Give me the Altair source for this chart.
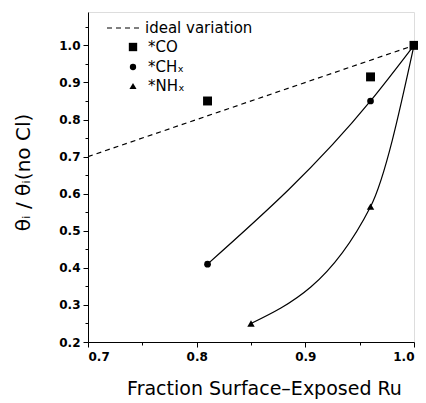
import altair as alt
import pandas as pd

FONT = "DejaVu Sans"

co_x = [0.81, 0.96, 1.0]
co_y = [0.85, 0.915, 1.0]
ch_x = [0.81, 0.96, 1.0]
ch_y = [0.41, 0.85, 1.0]
nh_x = [0.85, 0.96, 1.0]
nh_y = [0.25, 0.565, 1.0]
ideal_x = [0.7, 1.0]
ideal_y = [0.7, 1.0]

x_ticks = [0.7, 0.8, 0.9, 1.0]
x_minor = [0.75, 0.85, 0.95]
y_ticks = [0.2, 0.3, 0.4, 0.5, 0.6, 0.7, 0.8, 0.9, 1.0]
y_minor = [0.25, 0.35, 0.45, 0.55, 0.65, 0.75, 0.85, 0.95, 1.05]

legend_labels = ["ideal variation", "*CO", "*CHₓ", "*NHₓ"]

co = pd.DataFrame({"x": co_x, "y": co_y})
ch = pd.DataFrame({"x": ch_x, "y": ch_y})
nh = pd.DataFrame({"x": nh_x, "y": nh_y})
ideal = pd.DataFrame({"x": ideal_x, "y": ideal_y})

xs = alt.Scale(domain=[0.7, 1.0], nice=False, zero=False)
ys = alt.Scale(domain=[0.2, 1.09], nice=False, zero=False)

X = alt.X("x:Q", scale=xs, axis=alt.Axis(
    orient="bottom",
    values=x_ticks, format=".1f", title="Fraction Surface–Exposed Ru",
    titleFont=FONT, titleFontSize=19, titleFontWeight="normal",
    titleX=176, titleY=46, titleBaseline="middle",
    labelFont=FONT, labelFontSize=12, labelFontWeight="bold", labelPadding=4,
    tickSize=5, tickColor="black", domainColor="black", grid=False,
    labelColor="black", titleColor="black"))
Y = alt.Y("y:Q", scale=ys, axis=alt.Axis(
    orient="left",
    values=y_ticks, format=".1f", title="θᵢ  /  θᵢ(no Cl)",
    titleFont=FONT, titleFontSize=20, titleFontWeight="normal", titleX=-55, titleY=160,
    labelFont=FONT, labelFontSize=12, labelFontWeight="bold", labelPadding=3,
    tickSize=5, tickColor="black", domainColor="black", grid=False,
    labelColor="black", titleColor="black"))

minor = alt.Chart(pd.DataFrame({"x": x_minor[:1], "y": y_minor[:1]})).mark_point(opacity=0).encode(
    x=alt.X("x:Q", scale=xs, axis=alt.Axis(orient="bottom", values=x_minor, labels=False, title=None,
        tickSize=3, tickColor="black", domain=False, grid=False)),
    y=alt.Y("y:Q", scale=ys, axis=alt.Axis(orient="left", values=y_minor, labels=False, title=None,
        tickSize=3, tickColor="black", domain=False, grid=False)))

ideal_line = alt.Chart(ideal).mark_line(color="black", strokeWidth=1.2, strokeDash=[5, 4]).encode(x=X, y=Y)
ch_line = alt.Chart(ch).mark_line(color="black", strokeWidth=1.2, interpolate="monotone").encode(x=X, y=Y)
nh_line = alt.Chart(nh).mark_line(color="black", strokeWidth=1.2, interpolate="monotone").encode(x=X, y=Y)

co_pts = alt.Chart(co).mark_point(shape="square", filled=True, color="black", size=80, opacity=1).encode(x=X, y=Y)
ch_pts = alt.Chart(ch).mark_point(shape="circle", filled=True, color="black", size=45, opacity=1).encode(x=X, y=Y)
nh_pts = alt.Chart(nh).mark_point(shape="triangle-up", filled=True, color="black", size=55, opacity=1).encode(x=X, y=Y)

main = alt.layer(ideal_line, ch_line, nh_line, co_pts, ch_pts, nh_pts)

# legend
leg_line = alt.Chart(pd.DataFrame({"a": [0]})).mark_rule(color="black", strokeWidth=1.2, strokeDash=[5, 4]).encode(
    x=alt.value(19), x2=alt.value(52), y=alt.value(16))
leg_df = pd.DataFrame({"label": legend_labels, "ty": [16, 35, 55, 74], "tx": [57, 60, 60, 60]})
leg_text = alt.Chart(leg_df).mark_text(align="left", baseline="middle", font=FONT, fontSize=15, color="black").encode(
    x=alt.X("tx:Q", scale=None), y=alt.Y("ty:Q", scale=None), text="label:N")
leg_sq = alt.Chart(pd.DataFrame({"a": [0]})).mark_point(shape="square", filled=True, color="black", size=70, opacity=1).encode(
    x=alt.value(45), y=alt.value(35))
leg_ci = alt.Chart(pd.DataFrame({"a": [0]})).mark_point(shape="circle", filled=True, color="black", size=40, opacity=1).encode(
    x=alt.value(45), y=alt.value(55))
leg_tr = alt.Chart(pd.DataFrame({"a": [0]})).mark_point(shape="triangle-up", filled=True, color="black", size=50, opacity=1).encode(
    x=alt.value(45), y=alt.value(74))

chart = alt.layer(
    main, minor, leg_line, leg_text, leg_sq, leg_ci, leg_tr
).resolve_axis(x="independent", y="independent").properties(
    width=326, height=330,
    autosize=alt.AutoSizeParams(type="none"),
    padding={"left": 80, "top": 4, "right": 4, "bottom": 60},
).configure_view(stroke="black", strokeWidth=1.2).configure(background="white")

chart.save("out.html", embed_options={"renderer": "svg", "actions": False})
